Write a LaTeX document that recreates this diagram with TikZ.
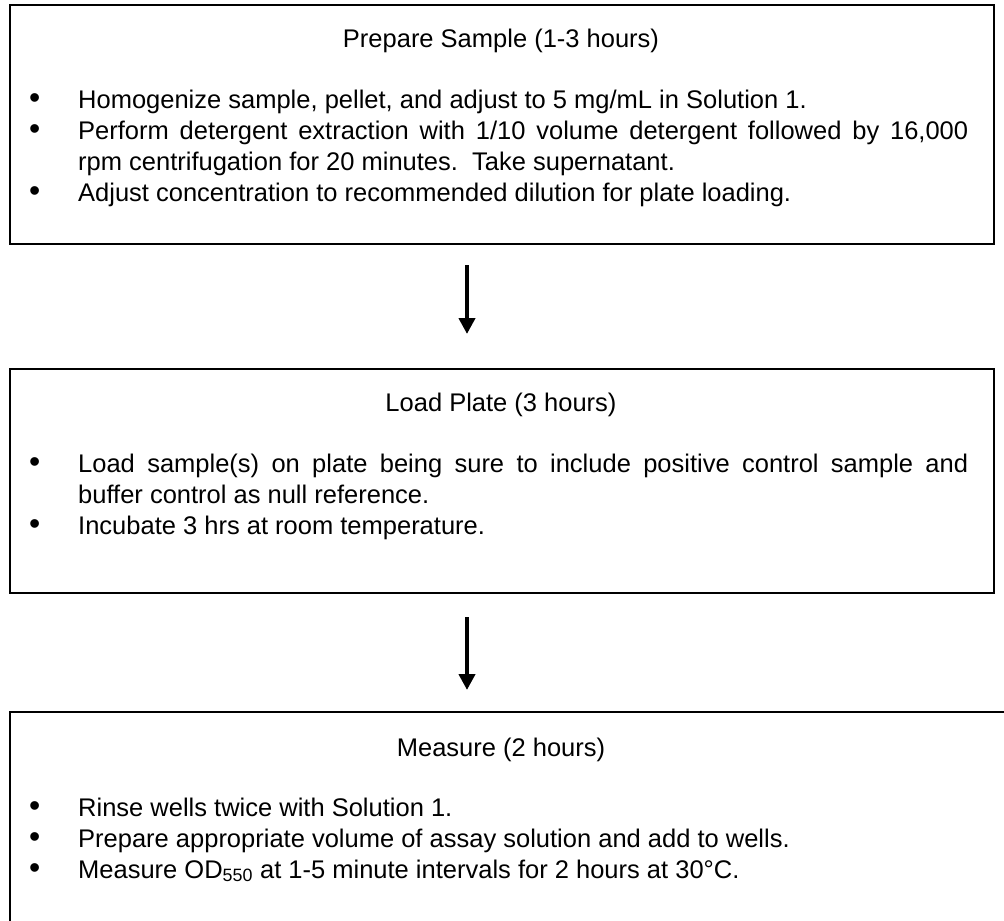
\documentclass[tikz,border=0pt]{standalone}
\usepackage{fontspec}
\usepackage{graphicx}
\setmainfont{Liberation Sans}
\usetikzlibrary{arrows.meta,calc}
\newcommand{\bitem}[1]{\par\noindent\hangindent=50pt\hangafter=1\makebox[50pt][l]{\hspace{1pt}\raisebox{-0.6pt}{\scalebox{1.25}{\textbullet}}}#1}
\newcommand{\blist}[1]{\parbox[t]{940pt}{\fontsize{25.5pt}{31pt}\selectfont\parindent=0pt\parskip=0pt #1}}
\tikzset{
  stepbox/.style={draw=black, line width=2pt, rectangle, inner sep=0pt, anchor=north west},
  title/.style={anchor=base, inner sep=0pt, font=\fontsize{25.5pt}{31pt}\selectfont},
  list/.style={anchor=base west, inner sep=0pt},
  flow/.style={line width=4.5pt, -{Triangle[width=16pt,length=16pt]}}
}
\begin{document}
\begin{tikzpicture}[x=1pt,y=-1pt]
\useasboundingbox (0,0) rectangle (1004,921);
\clip (0,0) rectangle (1004,921);
\fill[white] (0,0) rectangle (1004,921);
% boxes
\node[stepbox, minimum width=984pt, minimum height=239pt] (box1) at (9,4) {};
\node[stepbox, minimum width=984pt, minimum height=224pt] (box2) at (9,368) {};
\node[stepbox, minimum width=1020pt, minimum height=240pt] (box3) at (9,711) {};
% titles
\node[title] (t1) at (501,47) {Prepare Sample (1-3 hours)};
\node[title] (t2) at (501,411) {Load Plate (3 hours)};
\node[title] (t3) at (501,756) {Measure (2 hours)};
% lists
\node[list] (l1) at (28,108) {\blist{%
\bitem{Homogenize sample, pellet, and adjust to 5 mg/mL in Solution 1.}
\bitem{Perform detergent extraction with 1/10 volume detergent followed by 16,000\linebreak rpm centrifugation for 20 minutes.\ \ Take supernatant.}
\bitem{Adjust concentration to recommended dilution for plate loading.}}};
\node[list] (l2) at (28,472) {\blist{%
\bitem{Load sample(s) on plate being sure to include positive control sample and\linebreak buffer control as null reference.}
\bitem{Incubate 3 hrs at room temperature.}}};
\node[list] (l3) at (28,816) {\blist{%
\bitem{Rinse wells twice with Solution 1.}
\bitem{Prepare appropriate volume of assay solution and add to wells.}
\bitem{Measure OD\textsubscript{550} at 1-5 minute intervals for 2 hours at 30°C.}}};
% arrows
\draw[flow, shorten <=20pt, shorten >=34pt] ([xshift=-35pt]box1.south) -- ([xshift=-35pt]box2.north);
\draw[flow, shorten <=23pt, shorten >=21pt] ([xshift=-35pt]box2.south) -- ([xshift=-35pt]box3.north west -| box2.south);
\end{tikzpicture}
\end{document}
